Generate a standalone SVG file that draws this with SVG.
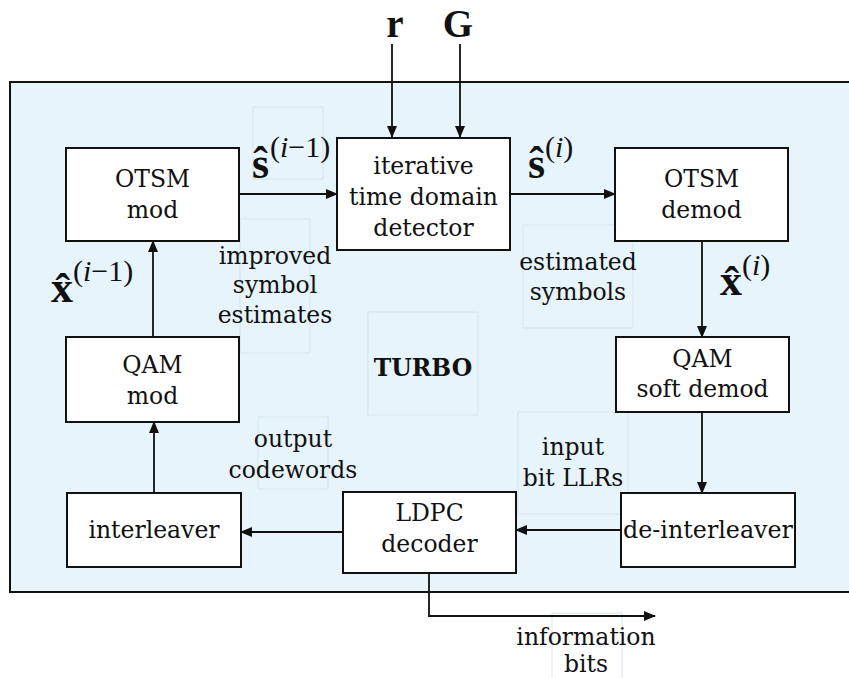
<svg xmlns="http://www.w3.org/2000/svg" width="849" height="678" viewBox="0 0 849 678">
<defs>
<style>
.box{fill:#ffffff;stroke:#111111;stroke-width:2}
.t{font-family:"DejaVu Serif","Liberation Serif",serif;font-size:23.5px;fill:#111111;text-anchor:middle}
.c{stroke:#111111;stroke-width:1.8;fill:none}
.ghost{fill:none;stroke:#d6e5ee;stroke-width:1}
.m{font-family:"Liberation Serif","DejaVu Serif",serif;fill:#111111}
.mb{font-weight:bold;font-size:44px}
.ms{font-size:30px;font-weight:normal}
</style>
<marker id="ah" markerWidth="12" markerHeight="10" refX="11" refY="5" orient="auto" markerUnits="userSpaceOnUse">
<path d="M0,0 L12,5 L0,10 Z" fill="#111111"/>
</marker>
</defs>
<rect x="0" y="0" width="849" height="678" fill="#ffffff"/>
<rect id="turbo-frame" x="10" y="82" width="850" height="510" fill="#e7f4fb" stroke="#111111" stroke-width="2"/>
<g id="ghosts">
<rect class="ghost" x="253" y="107" width="70" height="72"/>
<rect class="ghost" x="240" y="219" width="70" height="134"/>
<rect class="ghost" x="523" y="225" width="110" height="103"/>
<rect class="ghost" x="368" y="312" width="110" height="103"/>
<rect class="ghost" x="258" y="417" width="70" height="72"/>
<rect class="ghost" x="518" y="412" width="110" height="102"/>
<rect class="ghost" x="552" y="613" width="70" height="70"/>
</g>
<g id="connectors">
<line class="c" x1="392" y1="44" x2="392" y2="137" marker-end="url(#ah)"/>
<line class="c" x1="460" y1="44" x2="460" y2="137" marker-end="url(#ah)"/>
<line class="c" x1="239" y1="194" x2="337" y2="194" marker-end="url(#ah)"/>
<line class="c" x1="510" y1="194" x2="615" y2="194" marker-end="url(#ah)"/>
<line class="c" x1="702" y1="241" x2="702" y2="337" marker-end="url(#ah)"/>
<line class="c" x1="702" y1="412" x2="702" y2="493" marker-end="url(#ah)"/>
<line class="c" x1="621" y1="530" x2="516" y2="530" marker-end="url(#ah)"/>
<line class="c" x1="343" y1="532" x2="241" y2="532" marker-end="url(#ah)"/>
<line class="c" x1="154" y1="493" x2="154" y2="422" marker-end="url(#ah)"/>
<line class="c" x1="153" y1="337" x2="153" y2="241" marker-end="url(#ah)"/>
<polyline class="c" points="429,573 429,616 655,616" marker-end="url(#ah)"/>
</g>
<g id="otsm-mod"><rect class="box" x="66" y="148" width="173" height="93"/><text class="t" x="152.5" y="187">OTSM</text><text class="t" x="152.5" y="218">mod</text></g>
<g id="detector"><rect class="box" x="337" y="138" width="173" height="112"/><text class="t" x="423.5" y="174">iterative</text><text class="t" x="423.5" y="205">time domain</text><text class="t" x="423.5" y="236">detector</text></g>
<g id="otsm-demod"><rect class="box" x="615" y="148" width="173" height="93"/><text class="t" x="701.5" y="187">OTSM</text><text class="t" x="701.5" y="218">demod</text></g>
<g id="qam-mod"><rect class="box" x="66" y="337" width="173" height="85"/><text class="t" x="152.5" y="373">QAM</text><text class="t" x="152.5" y="404">mod</text></g>
<g id="qam-soft-demod"><rect class="box" x="616" y="337" width="173" height="75"/><text class="t" x="702.5" y="367">QAM</text><text class="t" x="702.5" y="397">soft demod</text></g>
<g id="interleaver"><rect class="box" x="67" y="493" width="174" height="74"/><text class="t" x="154" y="538">interleaver</text></g>
<g id="ldpc-decoder"><rect class="box" x="343" y="492" width="173" height="81"/><text class="t" x="429.5" y="521">LDPC</text><text class="t" x="429.5" y="552">decoder</text></g>
<g id="de-interleaver"><rect class="box" x="621" y="493" width="174" height="74"/><text class="t" x="708" y="538" textLength="170" lengthAdjust="spacingAndGlyphs">de-interleaver</text></g>
<g id="labels">
<text class="m" x="395" y="37" font-size="39" font-weight="bold" text-anchor="middle">r</text>
<text class="m" x="458" y="37" font-size="39" font-weight="bold" text-anchor="middle">G</text>
<text class="t" x="275" y="264">improved</text>
<text class="t" x="275" y="293">symbol</text>
<text class="t" x="275" y="323">estimates</text>
<text class="t" x="578" y="270">estimated</text>
<text class="t" x="578" y="300">symbols</text>
<text class="t" x="423" y="376" font-weight="bold" font-size="31">TURBO</text>
<text class="t" x="293" y="447">output</text>
<text class="t" x="293" y="478">codewords</text>
<text class="t" x="573" y="455">input</text>
<text class="t" x="573" y="486">bit LLRs</text>
<text class="t" x="586" y="645">information</text>
<text class="t" x="586" y="672">bits</text>
<text class="m"><tspan class="mb" x="252" y="178">ŝ</tspan><tspan class="ms" x="270" y="157">(<tspan font-style="italic">i</tspan>−1)</tspan></text>
<text class="m"><tspan class="mb" x="528" y="178">ŝ</tspan><tspan class="ms" x="545" y="157">(<tspan font-style="italic">i</tspan>)</tspan></text>
<text class="m"><tspan class="mb" x="51" y="302">x&#x302;</tspan><tspan class="ms" x="73" y="281">(<tspan font-style="italic">i</tspan>−1)</tspan></text>
<text class="m"><tspan class="mb" x="720" y="295">x&#x302;</tspan><tspan class="ms" x="742" y="275">(<tspan font-style="italic">i</tspan>)</tspan></text>
</g>
</svg>
